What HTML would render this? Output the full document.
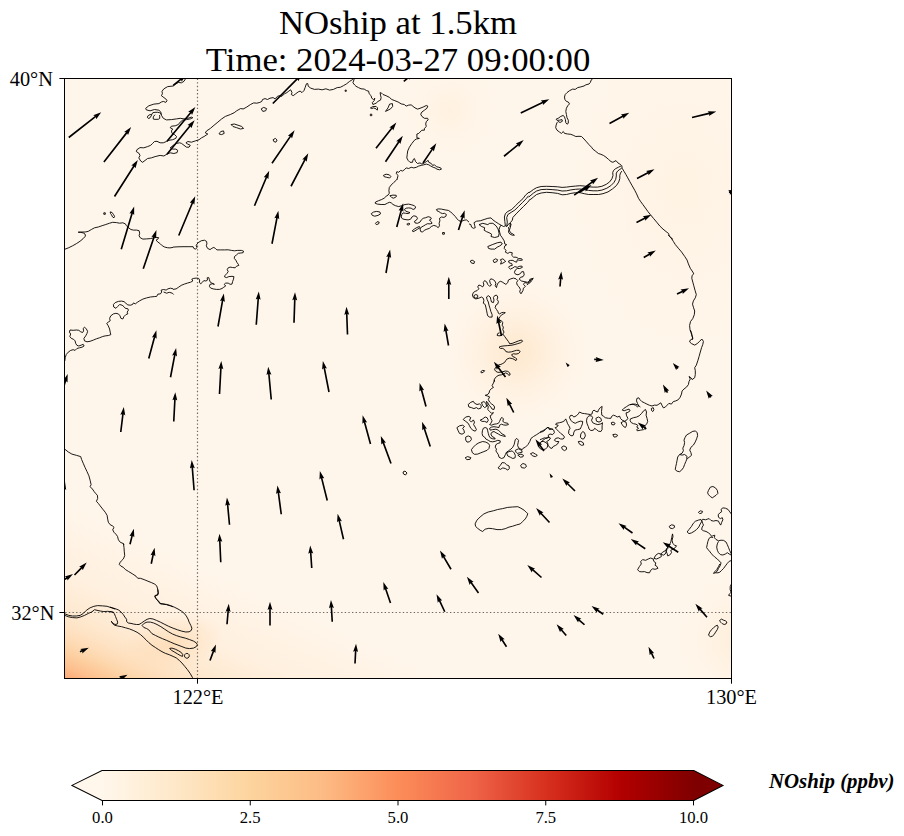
<!DOCTYPE html>
<html><head><meta charset="utf-8"><title>NOship at 1.5km</title>
<style>html,body{margin:0;padding:0;background:#fff}svg{display:block}text{font-family:"Liberation Serif",serif;fill:#000}</style></head><body>
<svg width="904" height="836" viewBox="0 0 904 836">
<defs>
<clipPath id="ax"><rect x="64.5" y="78.5" width="667.0" height="600.0"/></clipPath>
<linearGradient id="cb" x1="0" y1="0" x2="1" y2="0"><stop offset="0.0000" stop-color="#fff7ec"/><stop offset="0.1250" stop-color="#fee8c8"/><stop offset="0.2500" stop-color="#fdd49e"/><stop offset="0.3750" stop-color="#fdbb84"/><stop offset="0.5000" stop-color="#fc8d59"/><stop offset="0.6250" stop-color="#ef6548"/><stop offset="0.7500" stop-color="#d7301f"/><stop offset="0.8750" stop-color="#b30000"/><stop offset="1.0000" stop-color="#7f0000"/></linearGradient>
<linearGradient id="bl" gradientUnits="userSpaceOnUse" x1="65" y1="678" x2="132.2" y2="532.4"><stop offset="0.0000" stop-color="#fdab78"/><stop offset="0.0150" stop-color="#fdae7c"/><stop offset="0.0738" stop-color="#fdc08f"/><stop offset="0.1525" stop-color="#fdd0a2"/><stop offset="0.1925" stop-color="#fdd7ad"/><stop offset="0.2356" stop-color="#fedcb8"/><stop offset="0.3125" stop-color="#fee4c6"/><stop offset="0.4125" stop-color="#feead2"/><stop offset="0.5938" stop-color="#fff0df"/><stop offset="0.8750" stop-color="#fff4e7"/><stop offset="1.0000" stop-color="#fff6eb"/></linearGradient>
<radialGradient id="plume" gradientUnits="userSpaceOnUse" cx="0" cy="0" r="1" gradientTransform="translate(170 645) rotate(-15) scale(55 28)"><stop offset="0" stop-color="#fedcb6" stop-opacity="0.85"/><stop offset="1" stop-color="#fedcb6" stop-opacity="0"/></radialGradient>
<radialGradient id="glow" gradientUnits="userSpaceOnUse" cx="517" cy="352" r="78"><stop offset="0" stop-color="#fee9ce"/><stop offset="0.27" stop-color="#feedd8"/><stop offset="0.53" stop-color="#fff2e3"/><stop offset="0.8" stop-color="#fff5e9"/><stop offset="1" stop-color="#fff6eb" stop-opacity="0"/></radialGradient>
<radialGradient id="glow2" gradientUnits="userSpaceOnUse" cx="450" cy="110" r="60"><stop offset="0" stop-color="#fff1e0"/><stop offset="1" stop-color="#fff6eb" stop-opacity="0"/></radialGradient>
<radialGradient id="glow3" gradientUnits="userSpaceOnUse" cx="745" cy="640" r="80"><stop offset="0" stop-color="#feecd5"/><stop offset="1" stop-color="#fff6eb" stop-opacity="0"/></radialGradient>
<radialGradient id="glow4" gradientUnits="userSpaceOnUse" cx="0" cy="0" r="1" gradientTransform="translate(685 190) scale(120 170)"><stop offset="0" stop-color="#fff2e2" stop-opacity="0.85"/><stop offset="1" stop-color="#fff2e2" stop-opacity="0"/></radialGradient>
</defs>
<rect width="904" height="836" fill="#fff"/>
<g clip-path="url(#ax)">
<rect x="64.5" y="78.5" width="667.0" height="600.0" fill="url(#bl)"/>
<rect x="64" y="78" width="668" height="600" fill="url(#plume)"/>
<rect x="64" y="78" width="668" height="600" fill="url(#glow2)"/>
<rect x="64" y="78" width="668" height="600" fill="url(#glow4)"/>
<rect x="64" y="78" width="668" height="600" fill="url(#glow)"/>
<rect x="64" y="78" width="668" height="600" fill="url(#glow3)"/>
<path d="M197.5 78.6V679M65.2 612.5H732" stroke="#6e6964" stroke-width="1.2" stroke-dasharray="1.39 2.24" fill="none"/>
<g fill="none" stroke="#000" stroke-width="0.9" stroke-linejoin="round">
<path d="M185.9 78.1 184.0 81.3 181.5 82.8 178.3 82.5 175.2 84.4 173.3 86.0 167.7 86.6 163.9 88.8 162.0 91.3 162.4 93.8 161.4 95.7 163.9 97.6 165.8 98.9 167.0 100.7 165.8 102.4 163.3 101.4 161.4 102.0 158.9 103.6 153.9 104.1 148.8 105.8 145.7 108.3 146.3 109.9 150.1 110.8 154.5 109.5 158.9 110.2 160.8 112.0 161.4 115.2 163.3 118.3 166.4 119.9 171.4 119.6 176.5 118.9 180.2 118.3 184.0 118.9 187.8 118.3 191.5 117.1 192.8 117.7 190.3 118.9 186.5 119.6 182.7 120.2 180.2 122.1 178.3 124.6 175.2 125.8 171.4 126.2 170.2 127.7 172.7 129.0 171.4 130.9 172.1 133.4 174.6 134.6 176.5 136.5 175.8 138.4 172.7 139.7 168.9 140.3 166.4 141.5 163.3 142.8 160.1 142.8 157.0 141.3 154.5 141.5 152.6 143.4 150.7 145.3 147.6 146.6 143.8 147.8 140.0 147.6 136.9 149.7 136.3 151.6 138.8 153.1 140.0 155.4 138.8 157.9 140.7 161.0 142.6 162.3 145.1 160.4 147.6 158.5 151.3 157.9 155.1 156.6 160.1 155.4 163.9 156.0 167.0 154.1 170.2 152.8 173.9 153.5 177.1 152.6 177.7 150.3 175.8 149.1 172.7 149.1 170.2 147.8 173.3 145.3 176.5 143.4 179.6 142.8 181.5 143.4 184.0 145.3 186.5 147.2 189.0 147.2 190.3 145.3 187.8 144.1 185.9 142.8 187.8 141.5 191.5 142.2 195.3 140.9 199.1 139.7 201.6 137.8 204.1 136.5 207.8 134.0 205.3 132.8 206.6 130.9 210.4 128.4 214.1 125.2 217.9 122.1 221.7 118.9 225.4 116.4 230.4 114.5 234.2 112.7 236.7 110.8 240.5 108.6 243.0 108.9"/>
<path d="M219.1 133.4 221.0 131.5 223.5 130.9 224.2 133.4 221.7 134.6 219.1 134.0Z"/>
<path d="M231.1 124.6 234.2 124.0 238.0 125.2 241.7 126.5 243.6 128.4 240.5 129.0 236.7 127.7 233.0 126.5Z"/>
<path d="M243.0 109.1 246.8 107.0 250.5 104.5 253.7 102.9 256.8 103.2 259.9 102.4 261.8 101.4 262.5 99.5 265.0 98.6 267.5 99.5 270.0 98.2 273.1 97.6 275.0 98.9 277.5 96.3 279.4 95.7 281.9 96.3 284.4 93.8 286.9 92.6 288.8 91.1 290.7 89.8 292.0 92.6 291.3 94.5 293.2 95.7 295.7 93.8 298.2 91.9 300.1 91.1 302.0 92.6 303.9 90.7 305.1 87.6 306.4 83.8 307.7 83.5 308.3 86.3 310.8 88.2 314.6 89.4 318.3 89.1 322.1 89.8 325.9 88.8 329.6 90.1 333.4 89.4 337.2 87.6 340.3 87.3 343.4 85.7 346.6 83.8 349.7 81.3 352.2 79.8 354.1 78.1"/>
<path d="M261.2 108.9 263.7 107.4 266.6 108.6 265.6 110.8 262.8 111.4Z"/>
<path d="M273.1 139.7 275.4 138.4 277.1 140.0 275.9 142.2 273.8 141.5Z"/>
<path d="M345.1 90.1 346.3 90.1 346.3 91.3 345.1 91.3Z"/>
<path d="M354.5 78.1 352.9 82.8 354.7 85.0 356.0 86.3 358.5 87.6 361.0 88.8 364.2 89.1 366.7 90.7 368.6 91.1 369.2 93.8 371.1 95.7 371.7 98.2 373.6 99.5 374.8 98.2 374.2 100.7 372.3 102.6 372.9 104.5 376.1 103.2 378.0 101.4 380.5 100.1 381.1 97.6 380.5 95.1 380.1 92.6 381.7 93.2 383.0 94.5 386.1 95.7 389.3 97.3 391.8 99.5 394.9 100.7 398.1 102.0 401.2 103.9 404.3 104.5 406.2 106.1 408.7 105.1 411.2 104.9 413.1 106.4 415.0 107.9 417.5 109.1 420.0 108.3 423.2 107.0 426.3 105.5 427.8 106.1 426.9 108.3 424.4 110.2 421.9 112.0 420.7 114.2 421.9 116.4 424.4 118.3 427.6 118.3 428.2 119.9 426.3 121.5 425.7 124.0 426.3 126.5 424.4 128.4 424.4 130.2 421.9 130.2 420.0 132.1 418.8 133.4 416.9 134.0 416.9 137.8 419.4 138.4 416.3 139.0 414.4 140.3 411.9 143.4 409.4 147.2 407.7 151.0 407.2 154.7 406.8 157.9 408.1 160.4 410.0 162.3 412.5 162.3 413.1 159.7 414.4 158.5 415.6 161.6 417.5 163.5 420.0 162.9 421.9 164.1 424.4 162.9 426.3 161.6 428.2 160.4 428.8 162.3 431.3 163.5 432.6 165.4 434.5 164.8 436.4 166.7 438.9 167.3 440.7 167.9 441.4 169.2 439.5 169.8 437.0 169.2 435.1 167.9 433.2 167.3 430.7 166.0 428.8 164.8 426.3 164.1 423.8 164.8 421.3 165.4 418.8 166.0 416.3 167.3 413.8 167.9 411.2 167.3 408.7 168.5 406.2 167.9 404.3 169.8 402.5 171.0 400.6 170.4 398.7 172.3 396.8 171.7 396.2 173.6 398.1 175.4 397.4 178.0 396.8 180.0"/>
<path d="M370.4 107.9 372.9 106.6 376.1 106.4 377.6 107.9 377.3 110.2 376.1 108.9 373.6 107.9 371.7 108.6Z"/>
<path d="M385.5 111.4 388.0 107.9 389.6 104.1 392.4 103.6 392.7 106.4 390.5 108.9 388.0 110.2Z"/>
<path d="M370.3 114.2 371.8 114.2 371.8 115.7 370.3 115.7Z"/>
<path d="M383.4 175.4 386.1 174.2 389.3 174.8 390.9 176.7 389.6 178.0 386.8 177.3 384.2 176.7Z"/>
<path d="M396.8 179.5 395.9 180.6 393.7 182.5 391.2 185.0 389.3 187.5 388.9 190.7 389.3 193.2 388.0 195.1 386.1 196.3 384.2 198.2 381.7 199.5 378.6 200.7 375.5 202.0 375.1 203.2 377.3 204.1 381.1 204.5 384.9 204.5 387.4 203.2 389.3 202.3 391.2 202.8 393.0 204.5 395.5 205.7 398.7 206.6 401.8 205.7 405.0 204.5 408.7 204.1 411.9 204.9 414.4 205.7 415.6 207.0 415.0 208.6 413.1 209.5 411.2 208.2 408.7 207.9 406.2 208.2 404.3 209.5 405.6 211.1 408.1 212.0 410.0 212.6 408.1 213.6 405.6 213.3 403.1 212.9 401.8 214.5 401.2 217.0 402.5 218.9 405.0 219.5 408.1 219.9 410.6 219.2 411.9 217.0 413.8 215.8 416.3 216.4 417.5 218.3 416.3 220.2 414.4 221.4 415.0 222.9 417.5 223.3 420.0 222.1 421.3 219.9 423.2 218.3 425.7 217.7 428.2 216.7 430.7 217.4 431.3 218.9 429.4 220.2 431.3 221.7 432.0 223.3 430.1 223.9 427.6 223.7 425.7 224.6 423.8 225.8 421.3 227.1 420.0 229.0 420.7 231.5 422.5 232.1 424.4 230.2 426.9 229.2 429.4 228.3 431.3 226.5 433.8 225.4 436.4 226.2 438.2 227.7 439.5 225.8 439.1 223.3 439.9 220.8 439.5 218.3 441.4 217.0 443.9 217.4 445.8 216.4 446.4 214.5 444.5 213.3 442.6 213.6 440.7 212.9 438.9 211.6 437.0 210.8 436.4 209.5 438.2 208.9 441.4 209.1 445.1 209.9 448.3 210.4 450.8 212.0 452.7 213.9 455.2 216.4 457.1 218.9 459.0 220.8 461.5 221.4 464.0 220.2 466.5 219.9 469.0 222.1"/>
<path d="M371.3 213.6 373.6 212.0 376.7 211.4 379.9 212.0 380.5 213.9 378.0 215.4 374.8 216.2 372.3 215.4Z"/>
<path d="M375.5 223.3 377.1 221.7 379.2 222.1 378.6 223.9 376.3 224.6Z"/>
<path d="M412.2 230.8 414.4 229.0 416.9 227.5 419.4 226.5 420.0 227.7 417.5 229.2 415.0 230.8 413.1 231.7Z"/>
<path d="M442.6 232.5 444.4 232.5 444.4 234.2 442.6 234.2Z"/>
<path d="M406.8 224.2 408.7 223.3 410.0 223.9 408.1 225.2Z"/>
<path d="M389.9 195.7 393.0 195.1 396.2 195.3 396.4 196.6 393.7 198.2 391.8 197.6Z"/>
<path d="M469.0 223.9 470.9 224.6 471.5 227.1 473.4 228.3 475.3 227.7 474.6 225.2 474.0 222.7 476.5 221.2 480.3 220.8 484.1 219.5 487.8 218.3 491.0 217.9 492.9 219.9 495.4 221.7 498.5 223.7 501.0 225.2 503.5 226.5 505.4 225.8 506.7 226.5 509.2 223.3 511.1 223.9 510.4 227.1 509.4 230.2 510.4 232.7 512.9 234.0 514.4 235.2 512.3 235.2 509.8 234.0 508.5 232.1 508.9 229.6 508.5 227.1"/>
<path d="M501.0 225.2 499.8 227.1 499.1 229.6 499.8 232.7 500.4 235.2 502.3 237.8 504.2 240.9 504.8 244.0 506.7 244.7 504.8 245.9 504.2 248.4 506.0 250.3 505.4 252.2 507.9 253.4 509.8 252.2 512.3 252.8 511.7 255.3 513.6 257.2 516.1 257.2 518.6 258.5 521.7 258.8 522.4 260.1 519.8 260.4 517.3 259.7 516.7 262.2 514.8 261.6 512.9 260.4 510.4 260.4 508.5 261.0 509.2 262.9 511.7 263.5 512.3 265.4 509.8 266.0 508.5 267.3 510.4 269.1 512.9 267.9 514.8 266.6 517.3 267.3 519.2 266.4 521.7 266.0 522.4 267.3 519.8 268.5 517.3 268.5 515.5 269.8 514.4 272.3 515.5 274.2 518.0 274.8 520.5 273.5 521.7 271.7 523.6 271.7 524.2 274.8 523.0 276.7 520.5 277.3 519.2 279.2 521.7 281.1 524.9 281.7 527.4 282.3 529.3 281.1 529.9 279.2 533.0 278.6 531.8 280.4 530.5 282.3 528.6 283.6 526.8 285.0"/>
<path d="M505.4 225.8 504.8 221.4 504.4 217.0 505.4 213.6 507.9 211.4 511.7 209.5 515.5 205.7 519.2 202.0 523.0 198.6 525.5 195.1 529.3 191.9"/>
<path d="M506.7 226.5 507.3 222.1 506.7 217.7 507.9 214.5 511.1 212.4 514.8 210.1 518.6 206.4 522.4 202.6 526.1 198.8 528.6 195.7"/>
<path d="M509.8 226.7 510.4 222.7 512.3 220.2 512.9 217.4 516.1 213.9 519.8 210.1 523.6 206.4 527.4 202.6 530.5 198.8"/>
<path d="M479.0 224.6 482.8 223.3 487.8 224.6 489.7 223.3 492.9 223.3 496.0 225.8 498.1 229.0 499.1 233.4 498.5 236.5 494.7 237.5 491.0 236.5 491.6 234.2 489.1 232.7 486.6 231.7 484.1 230.2 484.7 227.7 481.6 226.5Z"/>
<path d="M487.8 246.5 492.2 244.7 497.2 242.8 501.0 242.1 502.3 244.0 499.8 245.9 497.2 247.2 494.7 249.1 491.0 249.1 488.5 248.4Z"/>
<path d="M470.3 261.0 472.1 260.1 474.6 261.6 474.0 263.5 471.5 263.1Z"/>
<path d="M493.1 260.4 495.4 258.8 497.6 259.7 496.9 261.6 494.1 262.6Z"/>
<path d="M500.4 259.7 502.9 258.8 505.7 261.4 502.9 263.1 500.6 264.1 501.4 261.6Z"/>
<path d="M593.4 78.1 591.3 79.8 590.3 82.5 589.0 84.0 585.9 84.8 584.0 86.0 580.8 86.9 577.7 87.6 575.2 89.4 572.7 89.1 569.5 90.7 567.0 92.6 565.2 94.5 564.5 97.0 564.9 99.5 566.4 101.4 568.3 102.0 569.5 103.9 567.7 105.8 566.4 108.3 565.8 111.4 566.4 114.5 567.0 117.7 568.3 120.2 568.3 123.3 567.0 124.2 565.8 122.7 565.4 119.6 564.5 117.1 563.3 115.4 560.8 116.4 558.2 118.3 556.1 119.2 557.0 120.4 559.5 120.2 562.0 119.6 562.4 121.2 560.1 122.5 558.2 121.5 557.0 122.7 556.1 125.2 555.7 127.7 557.0 130.2 559.5 132.1 561.4 133.4 563.3 131.5 564.5 133.4 567.7 134.0 570.8 134.3 573.3 135.3 575.8 136.5 579.0 136.3 581.5 136.5 584.0 139.0 586.5 141.8 589.0 144.7 591.5 147.2 592.8 149.1 595.3 151.0 598.4 153.5 600.9 154.3 603.4 155.4 606.0 157.2 608.5 159.4 611.0 161.6 612.9 162.3 616.0 160.6 617.9 162.9 619.8 164.1 621.7 165.6"/>
<path d="M621.8 165.7 622.1 168.2 624.0 171.3 625.9 174.5 627.8 177.9 629.7 181.4 632.2 185.8 634.7 190.2 636.6 193.9 638.5 198.3 640.4 201.2 642.9 204.6 645.4 208.0 647.9 211.5 650.4 214.7 653.5 218.4 656.7 222.2 659.8 226.0 663.0 229.1 666.1 231.6 668.6 233.5 669.2 236.0 671.1 237.9 673.0 239.4"/>
<path d="M668.3 235.0 670.8 237.5 673.3 241.3 675.2 244.4 678.3 248.2 681.5 251.9 684.6 256.3 687.1 260.1 688.4 263.9 690.3 268.3 692.8 272.0 693.8 273.9 692.1 275.4 691.8 278.3 692.8 282.1 693.8 285.8 695.0 290.2 696.3 294.6 695.3 297.8 693.4 300.9 692.5 304.1 693.4 307.2 694.7 311.0 694.3 314.7 692.8 318.5 690.5 321.6 689.6 325.4 690.0 329.8 691.5 334.2 692.8 338.0 692.1 340.0"/>
<path d="M690.3 330.0 691.5 332.5 692.1 336.3 692.8 338.5 690.3 340.0 689.6 341.9 691.5 343.6 694.7 345.1 697.2 343.6 699.7 341.3 701.8 339.0 703.4 341.3 702.8 344.4 701.6 347.6 700.3 352.0 699.1 356.4 697.8 360.8 696.3 365.2 694.7 367.7 695.3 370.8 695.3 374.6 694.7 377.7 692.1 379.6 690.9 377.7 689.0 376.5 690.3 379.0 689.0 381.5 688.4 384.6 686.5 387.1 684.0 389.0 682.1 390.9 681.5 394.0 680.2 397.2 678.3 399.7 675.8 400.9 673.3 401.6 671.4 404.1 668.9 403.4 667.0 405.3 665.2 407.2 663.3 407.8 662.0 405.3 660.8 402.8 658.9 404.1 657.0 405.3 654.5 405.1 652.0 406.0 649.5 405.3 646.9 404.1 644.4 402.8 641.9 401.6 640.0 399.7 638.8 397.8 636.9 398.4 636.5 400.9 637.5 403.4 638.8 406.0 637.5 406.8 635.6 405.3 633.1 404.3 630.0 404.7"/>
<path d="M651.3 408.5 653.2 407.6 653.9 409.7 652.8 411.6 651.6 410.6Z"/>
<path d="M640.4 407.0 637.9 405.1 635.4 404.1 632.3 404.1 629.1 404.9 626.6 406.6 624.1 408.2 622.2 410.1 624.1 410.8 626.6 409.9 629.1 409.1 630.1 410.8 627.9 412.4 626.0 412.9 626.6 415.8 627.9 418.3 626.6 420.2 624.7 421.2 622.2 420.2 620.4 418.3 619.7 416.2 617.2 417.0 615.3 415.8 613.4 415.2 611.6 416.4 610.9 418.3 608.4 418.3 605.3 417.7 603.4 416.2 601.8 415.2 601.5 411.4 602.1 406.4 600.3 407.6 598.4 410.1 597.8 412.0 595.9 411.4 594.0 410.1 592.5 411.4 592.1 413.9 590.2 414.5 587.7 414.1 584.6 413.6 582.1 413.3 579.5 412.0 578.3 413.9 576.4 415.8 573.9 417.0 572.0 415.2 570.1 415.8 569.5 417.7 570.8 420.2 572.6 422.1 575.2 423.3 577.7 422.1 580.2 421.2 582.7 421.4 582.4 423.9 581.4 426.5 580.2 429.0 577.7 429.6 575.2 430.0 573.9 432.1 573.3 435.2 572.0 435.9 570.1 435.2 568.6 433.4 568.9 430.2 570.1 428.3 568.9 425.8 567.4 423.3 566.6 420.8 565.7 418.9 564.5 420.8 562.0 422.1 559.5 422.7 556.3 423.3 555.7 424.6 558.2 425.2 556.9 427.1 555.1 427.7 556.9 429.6 558.8 431.5 560.7 433.4 563.2 435.2 564.5 437.1 563.2 439.0 560.7 439.0 558.2 437.8 555.7 438.4 554.4 440.3 556.3 441.5 558.8 441.5 557.6 444.0 555.7 445.3 553.2 446.5 551.9 448.4 550.0 447.8 548.2 445.3 546.3 442.8 543.8 441.5 541.3 441.5 540.0 442.8"/>
<path d="M587.1 417.7 589.0 415.8 591.5 415.8 592.7 417.7 591.5 420.2 592.7 422.7 595.2 423.9 597.8 424.6 600.9 423.9 602.5 422.7 602.1 425.8 602.1 429.6 600.9 431.5 598.4 431.2 596.5 429.6 594.6 428.3 593.4 430.2 590.8 430.5 589.0 429.0 588.3 426.5 587.1 423.9 586.5 420.8Z"/>
<path d="M595.9 418.3 598.4 417.0 600.9 418.3 601.5 420.8 599.0 422.1 596.5 421.2Z"/>
<path d="M580.8 434.0 582.7 431.5 584.6 432.7 585.4 435.9 583.9 438.8 582.1 439.0 580.4 437.1Z"/>
<path d="M578.3 441.5 580.8 441.3 583.3 442.8 583.7 445.0 581.4 445.3 579.2 443.8Z"/>
<path d="M561.6 447.2 563.9 445.9 566.4 447.2 566.6 449.3 564.5 450.6 562.3 449.3Z"/>
<path d="M611.3 422.7 613.1 422.1 615.1 423.3 614.1 424.9 611.8 424.6Z"/>
<path d="M612.8 434.6 615.3 434.2 617.6 435.2 616.6 436.7 614.1 437.1Z"/>
<path d="M621.0 422.7 623.5 421.4 626.0 422.1 626.6 425.2 625.4 427.5 623.5 426.5 622.2 424.6Z"/>
<path d="M630.4 418.9 633.5 417.7 636.7 417.0 639.2 415.8 641.7 413.3 643.6 410.8 645.5 409.5 646.5 412.0 646.1 415.2 647.0 418.3 647.7 421.4 646.7 423.9 644.8 425.8 645.5 428.3 643.6 429.6 640.4 430.2 637.3 430.8 636.7 429.6 638.6 428.3 636.7 427.1 637.9 425.4 636.0 424.2 633.5 423.7 631.4 422.7 630.1 420.8Z"/>
<path d="M540.0 432.1 542.5 430.8 545.0 429.6 546.9 427.7 548.8 427.5 549.4 429.6 551.9 429.0 553.8 430.2 554.4 432.7 552.6 434.6 550.0 434.0 548.2 435.2 548.8 437.1 546.9 438.4 544.4 437.8 541.9 439.0 540.0 439.6"/>
<path d="M494.6 380.0 493.4 383.1 492.1 385.6 493.4 387.5 491.5 388.5 489.6 390.7 489.0 393.2 487.1 394.8 485.2 395.3 487.7 396.1 489.6 396.9 488.3 399.5 489.6 402.0 491.5 403.9 493.4 405.1 494.6 407.0 494.0 409.5 492.1 409.1 490.8 407.0 489.0 405.1 487.7 402.6 486.5 401.3 487.1 404.5 488.3 407.0 487.7 409.5 489.6 411.4 491.5 413.3 493.4 412.6 492.1 414.5 490.2 415.8 490.8 418.3 492.1 420.8 490.8 423.3 489.6 424.6 491.5 425.2 494.0 424.2 496.5 423.9 498.4 423.3 499.6 421.4 500.9 418.3 502.1 417.4 503.4 418.9 502.8 421.4 504.7 422.7 507.8 423.3 508.4 424.6 505.9 425.2 503.4 424.9 501.5 424.2 499.6 425.2 499.0 427.5 496.5 427.1 494.0 426.7 491.5 427.1 489.6 428.3 490.2 430.2 492.7 429.6 495.9 429.2 498.4 430.2 500.3 432.1 502.1 434.0 504.7 435.2 505.3 436.5 502.8 435.9 500.3 435.2 498.4 434.0 495.9 432.7 494.0 431.5 492.1 432.1 490.8 434.0 492.1 436.5 494.6 437.8 495.2 439.0 492.7 438.8 490.2 437.8 489.0 435.9 488.3 433.4 487.7 430.8 487.1 428.3 485.2 427.5 483.3 428.3 482.4 430.8 482.1 433.4 482.7 435.9 484.6 437.1 485.8 439.0 488.3 440.3 490.2 441.5 492.7 441.8 495.2 441.3 497.8 440.3 500.3 440.9 500.0 442.8 497.8 443.4 495.9 444.7 495.2 447.2 496.5 449.1 495.9 450.9 497.1 452.8 498.4 454.7 499.0 457.2 501.5 458.5 504.0 457.6 505.3 454.7 506.5 452.2 508.4 450.9 510.9 449.1 512.8 447.2 514.1 444.7 514.7 442.1 515.3 439.6 516.8 438.4 518.5 440.3 518.1 442.8 517.6 445.3 518.5 447.8 520.4 448.8 522.2 449.7 522.9 448.4 525.4 447.2 527.9 444.7 529.8 441.5 531.0 438.4 533.5 436.5 536.7 434.6 539.8 432.5 543.0 431.5 545.5 429.6 547.3 427.5 549.2 428.3 551.7 429.0 553.0 429.2"/>
<path d="M471.4 449.7 473.3 447.2 475.8 444.7 478.9 442.8 482.7 441.5 485.8 442.1 488.3 443.4 489.6 445.3 489.0 448.4 487.1 450.3 483.9 451.6 480.8 452.8 477.7 454.1 474.5 454.3 472.4 452.8Z"/>
<path d="M465.1 457.8 467.6 456.6 470.8 457.6 470.1 459.3 467.0 459.7Z"/>
<path d="M468.2 404.5 470.8 402.3 473.3 401.3 474.5 403.2 477.0 404.5 479.5 403.9 481.4 405.7 480.8 408.2 478.3 408.9 476.4 407.6 473.9 408.6 471.4 407.6 468.9 407.0Z"/>
<path d="M463.2 419.5 465.7 417.0 468.9 416.4 470.8 417.7 469.5 420.2 471.4 422.1 473.3 419.9 474.5 422.1 473.6 424.6 475.2 427.1 476.4 429.6 475.2 431.2 472.9 430.2 470.8 428.3 469.5 425.8 468.2 423.3 465.7 421.4Z"/>
<path d="M456.9 427.7 459.5 425.8 462.6 425.2 464.5 426.5 462.6 428.3 463.9 430.2 464.5 432.7 462.0 434.2 459.5 433.4 458.2 430.8Z"/>
<path d="M465.7 437.1 468.2 435.9 470.8 437.1 471.4 439.6 469.5 441.8 467.0 442.1 465.7 440.0Z"/>
<path d="M481.4 402.6 483.9 401.6 485.8 403.2 486.7 406.4 484.6 407.6 482.7 405.7Z"/>
<path d="M480.2 420.2 482.7 418.9 485.2 417.0 487.1 417.7 488.3 420.2 487.1 422.4 484.6 421.4 482.1 421.4Z"/>
<path d="M498.0 467.9 500.3 465.4 502.1 462.6 504.7 462.9 506.5 464.7 509.1 466.0 509.3 468.5 507.8 470.1 505.3 468.5 502.8 467.9 500.3 469.4Z"/>
<path d="M520.6 465.4 522.9 463.5 525.6 464.4 526.4 466.6 524.4 468.1 521.6 467.6Z"/>
<path d="M530.4 453.8 532.9 452.6 535.4 454.1 537.3 455.3 535.4 456.6 532.9 456.0Z"/>
<path d="M506.5 452.8 509.1 451.6 512.2 450.9 514.1 452.8 515.3 455.3 515.1 457.8 512.8 458.5 510.3 457.2 507.8 456.0Z"/>
<path d="M515.3 450.3 518.5 448.8 521.6 450.3 522.2 452.2 519.7 452.8 517.2 453.4 516.0 452.2Z"/>
<path d="M517.8 455.1 521.0 454.1 523.5 455.3 522.9 456.8 520.4 457.2Z"/>
<path d="M540.4 442.8 543.0 440.3 545.5 438.4 548.0 437.1 550.5 438.0 549.2 440.0 546.7 441.5 548.0 444.0 547.3 447.2 545.5 449.1 542.3 449.7 539.8 448.4 538.6 445.9Z"/>
<path d="M533.5 278.1 531.0 279.4 529.8 281.9 527.3 283.2 524.7 282.5 523.5 284.4 525.4 286.3 523.5 288.2 522.9 290.7 521.0 293.8 519.7 291.9 520.4 289.4 519.1 286.9 517.2 285.0 516.6 282.5 517.8 280.6 516.0 278.8 513.4 278.1 510.9 278.8 508.4 280.0 507.8 282.5 505.9 284.4 504.0 283.2 502.1 281.9 500.3 281.3 498.4 282.5 497.1 285.0 496.5 287.6 495.2 285.7 495.9 283.2 494.6 280.6 492.7 279.4 490.8 278.8 489.6 280.6 490.2 283.2 491.5 285.0 489.6 286.3 487.7 284.4 486.7 281.9 484.6 280.6 483.3 282.5 483.9 285.0 482.7 286.9 480.8 285.7 478.9 285.0 477.7 286.9 478.9 288.8 477.0 290.7 475.2 291.3 473.3 292.6 472.4 295.1 473.3 297.6 475.8 298.9 478.9 298.2 481.4 297.0 483.3 298.2 483.9 300.7 483.3 303.2 485.2 304.5 485.8 307.0 486.5 310.2 487.1 313.3 487.7 315.8 489.6 317.1 492.1 317.1 492.1 314.5 490.8 311.4 490.0 308.3 489.0 305.1 488.3 302.0 487.1 299.5 486.5 297.0 488.3 295.7 490.2 297.0 490.8 299.5 491.5 302.0 493.4 302.6 494.0 300.1 493.4 297.6 494.6 295.7 496.5 295.1 497.8 297.0 497.1 299.5 498.4 301.4 497.8 303.9 495.9 305.1 495.2 307.6 496.5 309.5 497.8 311.4 498.4 313.3 499.6 313.9 501.5 312.7 503.4 312.4 505.3 312.7 503.4 313.9 501.5 314.9 500.3 316.4 499.0 318.3 499.6 320.2 501.5 320.8 502.8 322.7 502.1 325.2 503.4 327.1 502.8 329.6 504.0 332.1 502.8 334.0 501.5 335.3 499.0 335.9 497.1 335.3 497.8 333.4 499.6 332.8"/>
<path d="M502.8 334.0 504.7 336.5 506.5 339.0 508.4 341.5 509.7 343.8 512.2 343.4 515.3 342.2 518.5 340.9 521.6 340.0 522.6 341.3 520.4 342.8 517.2 343.8 514.1 344.7 510.9 345.3 507.8 345.6 504.0 345.9 500.9 346.3 499.0 347.2 500.3 348.4 502.8 348.4 504.7 349.7 505.9 351.6 508.4 352.2 511.6 351.8 514.1 351.0 516.6 350.3 519.1 350.3 520.1 351.8 518.5 353.5 516.0 354.1 513.4 353.8 511.6 354.7 512.8 356.6 515.3 357.6 516.8 359.1 516.0 360.6 514.1 359.4 512.2 358.5 509.7 358.1 507.2 358.9 505.9 360.4 504.7 362.3 502.8 363.5 500.9 364.4 499.0 364.8 497.1 366.0 495.2 367.9 494.6 369.8 495.9 371.4 497.8 372.3 500.3 372.3 502.8 371.7 505.3 371.0 507.8 371.4 509.7 372.9 510.1 374.8 508.8 375.4 507.5 373.6 505.3 372.9 503.4 374.2 501.5 374.8 499.0 375.2 497.1 376.1 495.2 378.0 494.0 380.0 494.6 381.7"/>
<path d="M473.9 295.7 475.8 294.5 477.7 295.3 477.7 297.3 475.8 298.2 474.1 297.3Z"/>
<path d="M480.8 371.7 482.7 370.4 484.6 370.7 483.3 372.3 481.4 372.9Z"/>
<path d="M65.0 249.2 68.8 247.7 72.6 245.8 76.3 243.7 80.1 241.2 83.2 238.6 85.4 236.1 85.1 234.1 83.2 232.9 80.7 232.4 78.2 232.2 81.3 232.0 85.1 232.0 88.2 231.4 91.4 229.5 94.5 227.8 98.3 227.0 102.1 225.7 105.8 224.5 109.6 223.2 112.7 222.3 116.5 222.6 119.6 223.2 122.8 222.8 125.3 223.8 126.5 225.7 128.4 227.6 130.9 229.5 133.4 230.1 136.6 230.1 139.1 230.7 139.7 233.2 139.1 235.8 140.4 237.9 142.9 239.1 146.6 238.9 150.4 238.6 153.5 237.9 156.0 237.4 158.6 237.6 157.9 239.1 156.0 240.2 157.9 242.0 160.4 243.9 162.3 245.8 164.8 247.1 167.3 247.7 169.9 247.9 173.0 247.4"/>
<path d="M103.8 212.8 105.3 212.8 105.3 214.3 103.8 214.3Z"/>
<path d="M110.2 211.9 112.1 212.5 113.4 214.4 114.6 216.3 114.0 217.8 112.5 216.9 111.5 214.8 110.5 213.5Z"/>
<path d="M173.0 247.1 178.0 246.8 183.0 246.7 188.1 246.7 193.1 246.7 193.7 248.3 195.6 249.2 196.9 247.7 196.2 245.2 198.1 242.7 201.2 240.8 204.4 240.2 206.6 241.4 206.9 243.9 206.3 245.8 207.5 248.3 210.0 249.6 211.9 248.3 213.8 247.4 215.7 248.7 216.9 249.9 220.7 249.9 224.5 249.9 228.2 249.8 231.4 250.4 234.5 250.8 237.7 250.4 241.4 250.4 243.6 251.2 243.1 252.7 240.8 253.0 238.3 253.3 236.4 255.0 234.5 256.5 234.3 258.4 235.8 260.2 237.0 262.5 238.3 264.3 238.9 265.3 236.4 266.3 235.1 267.8 232.6 267.5 230.1 267.1 228.2 267.8 227.2 269.7 228.2 271.5 227.0 273.4 225.1 275.3 224.5 276.8 226.4 277.6 228.9 276.6 232.0 276.3 233.9 276.6 233.5 279.1 232.6 281.6 232.0 284.1 230.1 284.3 228.2 283.1 225.7 283.1 224.2 284.3 225.7 286.0 223.8 287.2 222.0 288.5 219.5 289.4 216.3 289.4 213.2 288.9 210.7 288.1 209.4 286.4 210.0 284.3 212.5 283.8 214.4 284.3 211.9 283.1 210.0 281.8 209.4 279.7 208.8 277.6 207.1 277.8 207.5 280.1 205.9 281.0 203.8 280.6 202.5 282.2 200.6 283.8 199.4 282.2 199.6 280.1 198.7 278.4 196.2 278.1 193.7 278.4 191.8 279.1 192.8 281.0 190.6 282.2 187.4 283.1 184.3 284.1 181.2 285.4 178.6 287.2 176.1 288.9 173.0 289.4"/>
<path d="M173.0 288.8 170.5 288.2 168.0 288.8 166.1 290.1 163.6 289.5 161.1 290.1 161.7 292.0 160.4 293.9 157.9 294.1 156.7 296.4 154.2 296.6 150.4 297.0 146.6 297.9 142.9 299.1 139.7 300.8 137.2 302.4 135.3 303.9 133.4 302.9 132.6 304.5 130.3 305.2 127.8 304.9 125.9 303.3 124.0 301.6 121.5 301.1 118.4 301.4 115.2 302.6 113.4 304.5 113.7 307.0 115.9 308.3 117.8 306.4 119.6 304.5 122.1 305.2 124.0 306.7 125.3 308.3 127.8 308.7 128.4 310.2 127.2 312.1 127.8 313.9 125.9 314.6 124.0 316.5 122.8 319.0 120.9 318.3 120.0 315.8 118.4 313.9 115.9 313.3 113.4 313.9 110.8 315.8 109.6 318.3 110.2 320.8 108.3 322.1 106.7 323.4 108.3 325.9 109.6 329.0 110.2 332.1 110.8 334.7 108.3 335.5 105.2 335.9 102.7 336.5 99.5 337.8 96.4 338.8 93.3 340.1 90.1 341.3 87.0 341.8 84.5 340.9 83.9 338.4 85.7 335.9 87.0 333.4 87.6 331.3 86.4 329.0 84.5 327.1 83.2 328.4 83.6 330.9 82.6 332.5 80.7 331.8 78.8 330.3 76.3 330.0 73.2 330.3 70.0 330.0 69.4 332.1 70.7 334.0 69.8 336.5 71.3 338.4 73.6 339.3 75.1 340.9 75.7 343.4 76.9 345.3 78.8 346.0 81.3 345.1 83.2 344.3 84.1 346.0 82.0 347.2 79.5 347.8 76.9 348.5 75.1 350.4 73.2 349.7 70.7 350.4 68.2 352.2 66.3 354.4 65.3 357.3 64.8 361.0"/>
<path d="M163.6 292.0 166.7 293.2 169.2 292.3 172.4 293.2 173.6 294.5"/>
<path d="M64.8 449.2 68.2 451.9 71.9 454.1 76.3 455.3 80.7 456.6 81.6 459.5 83.2 463.2 85.1 467.6 87.0 471.6 88.9 475.8 90.1 480.2 91.1 484.6 90.1 486.7 92.4 489.0 94.1 491.5 95.8 493.7 97.4 495.2 97.7 498.4 96.4 501.3 98.3 503.4 100.2 505.9 102.7 509.1 105.2 512.2 107.1 515.3 107.7 519.1 108.3 522.2 110.2 524.7 112.7 526.0 114.0 527.3 112.7 529.8 114.0 532.3 115.9 534.2 117.5 536.4 118.4 539.8 120.3 542.3 123.4 543.6 124.0 545.0"/>
<path d="M123.4 543.5 124.0 547.6 124.3 551.9 124.7 555.7 123.4 558.9 121.5 560.7 120.0 562.6 119.3 564.5 120.9 566.1 123.4 567.4 125.3 569.5 128.4 571.4 132.2 573.7 136.0 576.2 137.8 578.3 140.4 578.3 144.1 579.6 147.9 581.2 151.7 582.7 154.8 584.2 156.7 585.8 157.7 589.0 157.9 592.8 157.3 595.3 154.8 595.9 156.0 598.4 157.9 600.9 159.8 603.4 163.0 603.8 166.7 604.7 170.5 605.9 173.0 606.8"/>
<path d="M64.8 613.8 68.8 615.4 72.6 616.0 76.3 616.0 80.1 615.4 83.2 613.5 86.4 610.3 90.1 607.8 93.9 606.3 97.7 605.6 102.7 605.9 107.1 606.3 111.5 607.8 115.2 609.1"/>
<path d="M64.8 615.4 68.8 616.9 72.6 617.6 76.9 617.9 80.7 616.9 84.5 615.4 88.2 613.5 92.0 611.8 94.5 609.7 97.0 610.3 100.2 611.0 103.9 611.6 107.7 611.3 111.5 611.8 114.2 612.6"/>
<path d="M475.1 523.9 476.9 520.2 480.1 517.0 483.9 513.9 488.2 512.0 493.3 510.8 497.7 509.5 502.7 508.6 507.7 507.4 512.7 507.0 517.8 506.7 520.9 508.2 524.0 510.1 526.3 512.4 527.8 513.6 526.8 516.4 525.3 518.9 522.8 521.4 520.3 523.9 516.5 524.9 512.7 526.2 509.0 527.1 505.2 528.7 501.4 529.6 497.0 529.6 492.6 528.7 488.9 528.3 485.1 529.2 482.6 531.5 480.1 530.2 477.6 528.3 475.7 526.5Z"/>
<path d="M686.5 435.0 689.7 433.2 692.8 431.3 695.3 431.0 697.2 432.5 697.6 435.7 696.6 438.8 695.3 441.9 693.4 445.1 690.9 447.3 689.7 450.1 690.9 452.6 691.5 455.1 689.7 457.0 687.1 458.6 685.9 461.4 684.6 464.5 683.4 467.7 681.5 470.2 679.6 471.7 677.1 471.2 675.2 469.6 675.8 466.4 676.5 463.3 677.1 460.2 677.7 457.0 679.6 454.5 682.1 453.2 683.4 450.7 682.8 448.2 684.0 445.7 684.6 442.6 684.0 440.1 685.0 437.6Z"/>
<path d="M679.6 454.5 682.1 455.1 684.6 454.5 687.1 456.4 686.5 458.6"/>
<path d="M708.5 490.3 710.4 487.1 712.9 486.5 715.4 487.8 717.3 490.3 717.9 493.4 716.0 495.3 714.1 496.6 712.3 497.8 710.4 496.6 708.5 494.7 707.6 492.8Z"/>
<path d="M698.4 512.3 700.3 510.8 702.6 511.4 701.8 513.1 699.7 513.6Z"/>
<path d="M669.2 526.4 671.5 524.8 674.2 525.4 674.6 527.3 672.5 528.6 670.2 528.2Z"/>
<path d="M637.6 569.7 639.4 566.5 641.3 564.0 640.7 561.5 642.6 559.6 645.7 560.3 648.2 559.0 650.7 558.0 653.2 559.0 653.9 561.5 655.8 562.8 655.1 565.3 657.0 566.5 657.9 568.4 655.1 569.3 652.6 568.8 650.7 570.3 649.5 572.8 647.0 572.6 644.5 571.6 641.9 571.8 639.4 571.6Z"/>
<path d="M653.9 558.4 655.8 555.2 658.3 553.4 660.8 554.0 661.4 556.5 658.9 558.0 656.4 559.0Z"/>
<path d="M660.8 554.0 662.7 552.1 665.2 550.8 667.1 548.3 666.4 551.5 665.2 554.0 663.3 555.2Z"/>
<path d="M667.1 548.3 668.9 545.8 670.8 542.1 671.7 537.7 672.5 533.9 673.0 536.4 672.1 540.2 672.7 543.3 674.6 545.2 676.5 545.8 675.2 547.7 673.3 549.0 670.8 550.2 671.5 552.7 669.6 555.2 667.7 555.9 667.1 553.4 665.8 550.8Z"/>
<path d="M687.1 532.0 689.0 529.5 691.5 526.4 693.4 523.2 695.3 521.3 698.4 520.1 701.0 519.5 701.8 521.3 700.3 523.9 698.8 527.0 696.6 529.5 694.1 531.4 691.5 532.9 689.0 533.6Z"/>
<path d="M732.0 514.8 729.8 511.9 728.0 509.4 725.4 508.2 722.9 507.9 721.0 509.4 721.7 511.7 719.8 512.9 718.2 514.8 718.5 517.3 720.4 518.6 722.3 517.7 722.9 519.8 721.7 522.3 720.7 525.1 719.4 523.2 718.5 521.1 716.0 520.5 713.5 521.1 711.0 520.5 709.1 518.6 707.2 519.2 705.4 519.8 702.8 519.2 701.8 520.7 702.6 523.2 703.5 525.1 702.2 527.0 701.6 529.5 703.5 530.8 706.0 531.4 708.5 532.9 710.4 534.5 711.6 536.4 712.9 535.8 714.8 535.2 714.4 537.7 716.0 539.5 718.5 540.8 721.0 540.2 723.6 540.4 726.1 542.1 727.3 544.6 728.6 547.7 729.8 550.8 731.1 553.4 732.0 555.2"/>
<path d="M712.9 537.7 711.0 537.0 709.1 538.3 707.9 541.4 707.2 544.6 706.6 547.5 707.9 549.6 709.7 551.2 711.0 553.4 712.9 555.2 714.8 557.1 717.3 559.0 719.2 560.9 721.0 562.8 720.4 565.3 718.5 568.4 717.3 570.9 715.4 572.8 713.5 573.4 714.8 571.6 716.7 569.7 718.5 566.5 719.8 564.0"/>
<path d="M732.0 560.3 729.2 561.3 727.3 563.4 725.4 565.9 723.6 568.4 721.7 570.3 719.8 572.2 717.9 572.8 715.4 572.8"/>
<path d="M718.5 541.4 717.3 543.9 716.7 547.1 717.3 550.2 718.5 552.7 720.4 554.6 722.9 555.0 725.4 554.0 727.3 552.7 729.2 554.0 732.0 555.5"/>
<path d="M732.0 582.9 730.2 586.6 730.2 589.8 731.1 592.3 729.2 594.2 728.6 595.4 732.0 596.4"/>
<path d="M708.5 635.2 709.7 632.1 711.6 629.6 713.5 627.7 715.4 626.2 717.3 625.2 718.2 627.1 717.3 629.6 715.6 632.1 714.1 634.6 712.3 636.2 710.4 636.7Z"/>
<path d="M719.4 620.8 721.4 619.1 723.6 620.2 725.4 620.8 726.9 622.0 726.1 623.9 724.2 624.5 722.3 623.7 721.0 622.4Z"/>
<path d="M403.0 472.0 405.0 471.0 407.0 473.0 405.5 475.0 403.5 474.0Z"/>
<path d="M157.8 589.4 158.5 592.8 158.1 594.6 155.4 595.3 154.8 596.9 156.2 598.8 157.6 600.5 159.2 601.6 160.3 603.8 162.5 604.2 166.4 604.4 170.3 605.5 174.2 607.1 178.0 609.0 181.3 611.0 184.1 613.2 186.3 616.0 188.0 619.0 189.1 622.1 190.8 625.4 191.9 628.2 191.3 630.4 189.1 631.8 185.8 632.0 181.9 631.2 177.5 629.8 173.1 628.2 168.6 626.3 164.2 624.1 160.3 622.1 156.5 620.4 153.1 619.0 149.8 618.5 147.1 619.3 144.3 621.0 141.5 623.0 139.0 624.5 136.5 624.5 133.8 624.1 131.0 623.4 128.3 623.0 126.6 621.5 126.6 619.3 124.9 617.1 123.3 614.6 121.1 612.1 118.8 610.1 116.1 609.0 112.8 607.9 110.0 607.1"/>
<path d="M142.1 625.4 144.3 623.2 147.1 622.1 150.4 622.1 153.7 623.0 157.0 624.5 160.9 626.7 164.8 629.3 168.6 631.8 172.5 634.0 176.4 635.6 180.8 637.0 185.2 638.1 189.6 639.6 193.5 641.1 196.3 642.9 197.4 644.8 196.3 646.6 193.5 648.1 189.6 648.6 185.8 648.1 181.9 646.6 178.0 645.1 174.2 643.7 170.3 642.0 166.4 640.3 162.5 638.7 158.7 637.0 155.4 635.4 152.0 633.7 150.4 631.8 148.7 629.8 146.5 628.5 143.7 627.4Z"/>
<path d="M110.0 611.6 112.8 612.1 114.4 613.8 115.5 616.5 116.6 619.3 117.7 622.1 117.2 624.1 115.0 624.5 112.8 623.2 111.3 621.2 112.4 623.2 114.4 625.2 117.7 626.0 121.6 626.7 125.5 627.8 129.4 628.9 133.2 630.4 137.1 632.3 140.4 634.5 143.2 637.0 146.0 639.8 148.7 642.5 152.0 645.3 155.4 647.5 158.7 649.7 162.0 651.7 165.3 653.3 169.2 654.7 173.1 656.4 176.4 658.0 179.1 660.2 181.9 663.0 184.7 666.3 187.4 669.6 190.2 673.5 192.4 677.4 193.2 679.0"/>
<path d="M169.7 648.4 171.9 648.1 175.3 649.2 178.6 650.8 181.3 652.5 182.8 654.7 182.5 656.4 180.2 655.5 177.5 653.9 174.2 651.9 171.4 650.3Z"/>
<path d="M189.3 655.8 189.0 657.0 188.1 657.9 186.9 658.3 185.7 657.9 184.8 657.0 184.4 655.8 184.8 654.6 185.7 653.7 186.9 653.4 188.1 653.7 189.0 654.6Z"/>
<path d="M529.1 192.9 530.0 192.1 533.3 189.6 536.6 187.7 541.1 186.5 546.6 186.3 552.1 186.5 557.7 186.8 562.1 187.4 566.5 187.1 570.9 186.5 575.4 186.1 579.8 185.7 584.2 186.0 588.6 186.8 593.1 187.1 597.5 187.1 601.9 186.3 606.3 184.3 609.6 181.9 611.9 178.8 613.0 175.5 612.7 172.7 613.5 170.5 615.7 168.6 618.5 167.2 620.9 166.1"/>
<path d="M528.7 197.2 530.0 196.0 533.3 193.2 536.6 191.0 541.1 189.6 546.6 189.3 552.1 189.6 557.7 190.1 562.1 191.0 566.5 190.8 570.9 189.9 575.4 189.3 579.8 189.0 584.2 189.6 588.6 190.4 593.1 190.8 597.5 190.8 601.9 190.1 606.9 188.2 610.8 185.7 613.8 182.7 615.7 179.4 616.3 176.0 616.3 173.1 617.6 171.1 619.8 169.4 621.6 168.3"/>
<path d="M530.4 199.6 533.3 197.1 536.6 194.5 541.1 193.0 546.6 192.3 552.1 192.7 557.7 193.4 562.1 194.8 566.5 194.5 570.9 193.4 575.4 192.7 579.8 192.6 584.2 193.7 588.6 194.5 593.1 194.5 598.6 194.5 603.0 193.7 608.0 191.9 612.4 189.0 616.3 185.7 618.7 182.1 619.8 178.6 619.8 175.3 620.5 173.1 621.8 171.1"/>
<path d="M147.3 117.1 148.2 115.6 150.2 114.5 151.7 114.5 151.1 116.0 150.0 117.8 148.4 118.5Z"/>
<path d="M151.7 114.5 152.8 112.7 155.0 112.3 157.7 112.3 159.5 112.7 160.8 113.6 161.2 114.7"/>
<path d="M155.0 114.7 153.7 116.2 153.1 118.0 153.5 119.2 155.9 119.4 158.6 119.2 159.7 118.5 159.7 116.2 159.5 115.1"/>
</g>
<g fill="#000" stroke="none">
<path d="M69.26 138.15 L95.88 117.35 L96.25 119.16 L101.22 112.13 L93.20 115.26 L94.86 116.05 L68.24 136.85ZM104.55 162.41 L127.25 133.38 L128.04 135.05 L131.17 127.03 L124.14 132.00 L125.95 132.37 L103.25 161.39ZM115.20 196.94 L134.52 166.70 L135.47 168.28 L137.82 159.99 L131.30 165.61 L133.13 165.81 L113.80 196.06ZM122.04 249.49 L132.82 213.77 L134.16 215.04 L134.17 206.43 L129.42 213.61 L131.24 213.30 L120.46 249.01ZM144.03 269.02 L154.83 237.23 L156.13 238.54 L156.44 229.93 L151.44 236.95 L153.27 236.70 L142.47 268.48ZM179.51 235.82 L193.12 203.36 L194.32 204.76 L195.23 196.20 L189.76 202.85 L191.60 202.72 L177.99 235.18ZM167.63 141.78 L191.28 113.28 L192.02 114.97 L195.38 107.04 L188.21 111.81 L190.01 112.23 L166.37 140.72ZM167.64 154.77 L190.58 126.57 L191.34 128.25 L194.63 120.28 L187.50 125.12 L189.30 125.52 L166.36 153.73ZM255.26 206.07 L267.12 177.86 L268.32 179.26 L269.23 170.70 L263.75 177.34 L265.60 177.22 L253.74 205.43ZM272.81 243.91 L277.77 218.11 L279.24 219.23 L278.36 210.66 L274.37 218.29 L276.15 217.80 L271.19 243.59ZM272.68 163.72 L291.08 136.85 L291.97 138.46 L294.59 130.25 L287.89 135.66 L289.71 135.92 L271.32 162.78ZM273.39 104.08 L297.79 79.43 L298.38 81.18 L302.42 73.57 L294.86 77.70 L296.61 78.27 L272.21 102.92ZM173.72 85.94 L181.20 79.92 L181.59 81.72 L186.47 74.62 L178.49 77.87 L180.17 78.64 L172.68 84.66ZM404.32 81.94 L409.23 77.95 L409.63 79.75 L414.47 72.62 L406.50 75.91 L408.19 76.67 L403.28 80.66ZM291.73 186.63 L305.57 160.18 L306.65 161.68 L308.28 153.22 L302.26 159.38 L304.11 159.42 L290.27 185.87ZM376.65 148.76 L392.41 128.86 L393.19 130.53 L396.37 122.53 L389.31 127.46 L391.12 127.84 L375.35 147.74ZM386.19 162.21 L399.40 142.39 L400.32 143.99 L402.83 135.75 L396.20 141.24 L398.03 141.47 L384.81 161.29ZM423.68 163.46 L432.86 149.87 L433.77 151.47 L436.34 143.25 L429.67 148.70 L431.50 148.94 L422.32 162.54ZM397.55 227.21 L402.02 210.56 L403.40 211.78 L403.16 203.17 L398.62 210.50 L400.43 210.13 L395.95 226.79ZM459.29 230.25 L463.26 217.51 L464.59 218.79 L464.68 210.18 L459.86 217.32 L461.68 217.02 L457.71 229.75ZM386.81 273.14 L389.64 256.87 L391.13 257.96 L390.10 249.41 L386.25 257.11 L388.02 256.58 L385.19 272.86ZM521.11 113.74 L542.96 103.21 L542.93 105.05 L549.29 99.24 L540.78 100.59 L542.24 101.72 L520.39 112.26ZM504.52 156.89 L518.49 145.46 L518.90 147.26 L523.71 140.12 L515.76 143.43 L517.45 144.18 L503.48 155.61ZM609.90 124.22 L623.15 116.99 L623.22 118.84 L629.28 112.71 L620.85 114.49 L622.36 115.54 L609.10 122.78ZM692.19 118.30 L709.31 114.16 L708.90 115.96 L716.33 111.61 L707.73 111.14 L708.92 112.55 L691.81 116.70ZM574.69 195.86 L592.59 182.71 L592.90 184.53 L598.08 177.64 L589.97 180.54 L591.61 181.38 L573.71 194.54ZM579.42 193.31 L585.57 189.62 L585.71 191.46 L591.51 185.09 L583.17 187.21 L584.72 188.20 L578.58 191.89ZM637.39 179.23 L648.35 173.42 L648.40 175.27 L654.53 169.22 L646.08 170.89 L647.58 171.96 L636.61 177.77ZM636.88 223.23 L645.09 218.91 L645.13 220.75 L651.28 214.72 L642.83 216.37 L644.33 217.45 L636.12 221.77ZM644.17 258.21 L649.78 254.92 L649.91 256.76 L655.77 250.45 L647.40 252.49 L648.95 253.49 L643.33 256.79ZM729.27 193.26 L730.03 192.99 L729.81 194.77 L736.57 189.80 L728.19 190.23 L729.49 191.47 L728.73 191.74ZM218.81 326.64 L223.37 300.86 L224.85 301.96 L223.85 293.41 L219.98 301.10 L221.75 300.58 L217.19 326.36ZM257.07 324.81 L259.05 298.87 L260.64 299.82 L258.80 291.40 L255.70 299.44 L257.41 298.74 L255.43 324.69ZM149.55 358.72 L155.27 337.55 L156.64 338.78 L156.41 330.17 L151.86 337.49 L153.67 337.12 L147.95 358.28ZM171.31 377.41 L175.53 355.36 L176.99 356.48 L176.11 347.91 L172.13 355.55 L173.91 355.05 L169.69 377.09ZM220.32 394.04 L221.71 368.36 L223.31 369.27 L221.28 360.90 L218.37 369.01 L220.06 368.27 L218.68 393.96ZM272.07 399.42 L269.70 373.97 L271.42 374.64 L268.19 366.65 L266.49 375.10 L268.06 374.12 L270.43 399.58ZM121.57 432.10 L123.74 414.37 L125.28 415.39 L123.82 406.90 L120.36 414.79 L122.10 414.17 L119.93 431.90ZM174.57 421.54 L175.72 399.61 L177.32 400.52 L175.28 392.15 L172.38 400.26 L174.07 399.52 L172.93 421.46ZM194.92 490.13 L193.11 467.44 L194.82 468.13 L191.70 460.10 L189.89 468.52 L191.47 467.57 L193.28 490.27ZM62.79 392.25 L66.24 381.26 L67.57 382.54 L67.68 373.93 L62.85 381.06 L64.67 380.76 L61.21 391.75ZM294.82 322.78 L295.60 299.60 L297.22 300.48 L295.02 292.15 L292.27 300.31 L293.95 299.54 L293.18 322.72ZM348.32 334.47 L347.57 314.04 L349.25 314.80 L346.48 306.65 L344.31 314.99 L345.93 314.10 L346.68 334.53ZM449.62 299.00 L449.62 284.12 L451.28 284.95 L448.80 276.70 L446.32 284.95 L447.98 284.12 L447.98 299.00ZM449.31 345.36 L446.74 330.58 L448.50 331.11 L444.65 323.41 L443.63 331.96 L445.11 330.87 L447.69 345.64ZM329.81 391.84 L325.13 368.04 L326.91 368.53 L322.88 360.91 L322.05 369.48 L323.51 368.36 L328.19 392.16ZM426.80 406.28 L422.34 389.87 L424.14 390.23 L419.59 382.92 L419.37 391.53 L420.74 390.30 L425.20 406.72ZM371.30 443.78 L365.35 422.11 L367.16 422.47 L362.59 415.17 L362.39 423.78 L363.76 422.55 L369.70 444.22ZM391.77 463.21 L384.14 442.61 L385.98 442.81 L380.79 435.94 L381.34 444.53 L382.60 443.19 L390.23 463.79ZM431.03 446.24 L425.17 428.47 L427.00 428.74 L422.06 421.68 L422.30 430.29 L423.60 428.99 L429.47 446.76ZM328.05 500.30 L322.46 477.92 L324.26 478.32 L319.85 470.92 L319.45 479.52 L320.85 478.32 L326.45 500.70ZM502.31 335.83 L499.48 322.50 L501.26 322.97 L497.13 315.41 L496.42 324.00 L497.86 322.85 L500.69 336.17ZM506.16 376.50 L499.04 367.18 L500.86 366.83 L493.89 361.77 L496.92 369.83 L497.73 368.18 L504.84 377.50ZM514.44 412.13 L510.37 403.95 L512.22 403.95 L506.33 397.66 L507.79 406.15 L508.90 404.68 L512.96 412.87ZM560.82 286.57 L561.49 278.87 L563.06 279.83 L561.30 271.40 L558.13 279.41 L559.84 278.73 L559.18 286.43ZM677.36 294.74 L682.70 292.19 L682.67 294.03 L689.04 288.24 L680.53 289.57 L681.99 290.70 L676.64 293.26ZM646.76 428.35 L644.14 426.30 L645.80 425.51 L637.78 422.38 L642.75 429.41 L643.12 427.60 L645.74 429.65ZM544.67 450.51 L540.45 444.77 L542.27 444.46 L535.40 439.27 L538.28 447.38 L539.12 445.74 L543.33 451.49ZM575.58 490.41 L568.20 483.19 L569.95 482.59 L562.32 478.58 L566.48 486.12 L567.05 484.37 L574.42 491.59ZM230.32 524.67 L228.46 504.72 L230.18 505.39 L226.94 497.40 L225.25 505.85 L226.81 504.87 L228.68 524.83ZM282.07 514.14 L279.22 492.66 L280.96 493.26 L277.42 485.41 L276.05 493.91 L277.58 492.87 L280.43 514.36ZM221.57 562.21 L220.63 541.03 L222.31 541.78 L219.47 533.65 L217.37 542.00 L218.98 541.11 L219.93 562.29ZM130.80 544.45 L132.90 536.07 L134.30 537.27 L133.90 528.67 L129.49 536.07 L131.29 535.67 L129.20 544.05ZM152.06 563.92 L153.91 555.10 L155.35 556.25 L154.62 547.66 L150.51 555.23 L152.29 554.76 L150.44 563.58ZM75.09 575.58 L82.06 568.45 L82.67 570.20 L86.67 562.57 L79.13 566.73 L80.89 567.30 L73.91 574.42ZM60.45 583.19 L67.26 578.70 L67.48 580.53 L73.00 573.92 L64.75 576.40 L66.35 577.32 L59.55 581.81ZM227.82 624.32 L228.98 611.12 L230.55 612.09 L228.80 603.65 L225.62 611.66 L227.33 610.98 L226.18 624.18ZM270.82 625.50 L270.82 609.08 L272.48 609.90 L270.00 601.65 L267.52 609.90 L269.18 609.08 L269.18 625.50ZM210.77 660.79 L214.15 651.69 L215.41 653.03 L215.96 644.44 L210.77 651.31 L212.60 651.11 L209.23 660.21ZM80.34 652.50 L82.38 651.58 L82.31 653.42 L88.80 647.75 L80.26 648.91 L81.70 650.07 L79.66 651.00ZM117.37 680.74 L121.26 678.79 L121.26 680.63 L127.54 674.73 L119.05 676.21 L120.53 677.31 L116.63 679.26ZM64.02 493.13 L64.67 488.87 L66.18 489.94 L64.99 481.41 L61.29 489.18 L63.04 488.62 L62.38 492.87ZM344.30 539.07 L340.08 520.72 L341.88 521.15 L337.62 513.67 L337.05 522.26 L338.48 521.09 L342.70 539.43ZM312.57 567.94 L311.54 552.75 L313.24 553.46 L310.21 545.40 L308.30 553.80 L309.89 552.87 L310.93 568.06ZM391.28 602.73 L386.49 588.69 L388.31 588.94 L383.31 581.93 L383.63 590.54 L384.92 589.23 L389.72 603.27ZM333.07 621.70 L332.22 607.26 L333.92 607.99 L330.96 599.90 L328.98 608.28 L330.58 607.36 L331.43 621.80ZM355.82 663.54 L356.47 651.11 L358.07 652.02 L356.03 643.65 L353.13 651.76 L354.82 651.02 L354.18 663.46ZM451.71 568.83 L444.42 556.46 L446.27 556.34 L439.95 550.48 L442.00 558.85 L443.00 557.30 L450.29 569.67ZM445.50 611.40 L440.40 600.57 L442.25 600.62 L436.49 594.21 L437.77 602.73 L438.91 601.28 L444.00 612.10ZM479.17 592.52 L471.89 582.32 L473.71 582.04 L466.90 576.76 L469.68 584.91 L470.55 583.28 L477.83 593.48ZM507.19 646.31 L502.87 639.55 L504.71 639.36 L498.18 633.74 L500.54 642.03 L501.48 640.44 L505.81 647.19ZM550.10 521.94 L541.75 512.94 L543.52 512.42 L536.09 508.06 L539.89 515.79 L540.54 514.06 L548.90 523.06ZM632.97 532.33 L625.06 526.75 L626.68 525.88 L618.51 523.15 L623.83 529.93 L624.11 528.10 L632.03 533.67ZM645.71 548.07 L637.36 542.40 L638.97 541.50 L630.75 538.91 L636.19 545.59 L636.43 543.76 L644.79 549.43ZM678.70 551.56 L669.42 545.53 L671.01 544.59 L662.75 542.17 L668.32 548.74 L668.52 546.91 L677.80 552.94ZM542.04 576.88 L533.43 569.37 L535.14 568.67 L527.30 565.11 L531.89 572.39 L532.35 570.61 L540.96 578.12ZM603.73 613.58 L598.04 609.53 L599.67 608.67 L591.51 605.90 L596.80 612.70 L597.08 610.88 L602.77 614.92ZM585.05 624.13 L579.67 619.39 L581.38 618.70 L573.55 615.10 L578.10 622.41 L578.58 620.63 L583.95 625.37ZM566.88 634.96 L562.08 629.39 L563.87 628.93 L556.61 624.30 L560.11 632.16 L560.83 630.46 L565.62 636.04ZM707.62 616.71 L700.84 608.87 L702.63 608.42 L695.36 603.80 L698.88 611.65 L699.59 609.95 L706.38 617.79ZM654.75 658.15 L652.38 653.09 L654.23 653.14 L648.50 646.71 L649.74 655.23 L650.89 653.78 L653.25 658.85ZM594.15 360.22 L596.34 360.35 L595.42 361.95 L603.80 359.93 L595.70 357.00 L596.43 358.70 L594.25 358.58ZM569.18 365.98 L568.86 365.61 L569.93 365.34 L565.61 362.54 L567.67 367.26 L568.11 366.24 L568.42 366.62ZM678.45 368.09 L677.94 367.54 L679.56 367.07 L672.79 363.06 L676.24 370.13 L676.84 368.56 L677.35 369.11ZM668.22 392.29 L667.28 390.63 L669.12 390.54 L662.90 384.58 L664.81 392.98 L665.84 391.45 L666.78 393.11ZM711.48 396.94 L711.02 396.26 L712.84 396.01 L706.16 390.60 L708.76 398.79 L709.66 397.18 L710.12 397.86ZM552.42 477.25 L552.17 476.83 L553.26 476.75 L549.49 473.28 L550.74 478.25 L551.33 477.33 L551.58 477.75Z"/>
</g>
</g>
<rect x="64.5" y="78.5" width="667" height="600" fill="none" stroke="#000" stroke-width="1"/>
<path d="M59.4 78.5H64M59.4 612.5H64M197.5 679V683.7M731.5 679V683.7" stroke="#000" stroke-width="1" fill="none"/>
<g font-size="20.83px">
<text transform="translate(52.9 86.2) scale(0.975 1)" text-anchor="end">40°N</text>
<text transform="translate(54.4 620) scale(0.975 1)" text-anchor="end">32°N</text>
<text transform="translate(198 703.9) scale(0.975 1)" text-anchor="middle">122°E</text>
<text transform="translate(731.5 703.9) scale(0.975 1)" text-anchor="middle">130°E</text>
</g>
<g font-size="34.72px" text-anchor="middle">
<text x="398" y="34.0">NOship at 1.5km</text>
<text x="398" y="70.8">Time: 2024-03-27 09:00:00</text>
</g>
<path d="M72 785.4L102 770.5V800.4Z" fill="#fff7ec"/>
<rect x="101.8" y="770.5" width="592.2" height="29.9" fill="url(#cb)"/>
<path d="M723 785.4L693.8 770.5V800.4Z" fill="#7f0000"/>
<path d="M72 785.4L102 770.5H693.8L723 785.4L693.8 800.4H102Z" fill="none" stroke="#000" stroke-width="1.05" stroke-linejoin="miter"/>
<path d="M102.50 800.9V805.4M250.25 800.9V805.4M398.00 800.9V805.4M545.75 800.9V805.4M693.50 800.9V805.4" stroke="#000" stroke-width="1" fill="none"/>
<g font-size="16.67px" text-anchor="middle">
<text x="102.5" y="823">0.0</text>
<text x="250.2" y="823">2.5</text>
<text x="398.0" y="823">5.0</text>
<text x="545.8" y="823">7.5</text>
<text x="693.5" y="823">10.0</text>
</g>
<text x="769" y="787.5" font-size="20.83px" font-weight="bold" font-style="italic">NOship (ppbv)</text>
</svg>
</body></html>
